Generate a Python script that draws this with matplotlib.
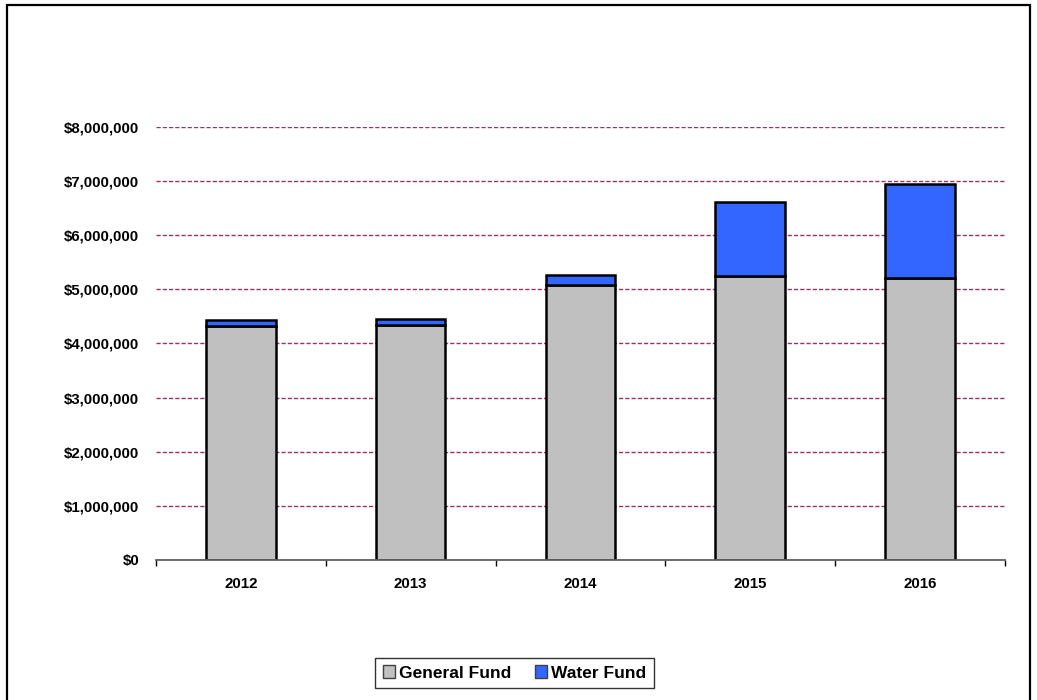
import matplotlib.pyplot as plt
from matplotlib.patches import Rectangle
from matplotlib.ticker import FuncFormatter, FixedLocator
import numpy as np

plt.rcParams['font.family'] = ['Liberation Sans', 'DejaVu Sans']
plt.rcParams['font.weight'] = 'bold'

years = ["2012", "2013", "2014", "2015", "2016"]
general_fund = [4330000, 4350000, 5080000, 5250000, 5210000]
water_fund = [100000, 110000, 180000, 1370000, 1740000]

fig = plt.figure(figsize=(10.37, 7.0), dpi=100)
ax = fig.add_axes([0.1504, 0.2, 0.8187, 0.6186])

x = np.arange(len(years))
bw = 0.41
edge = dict(edgecolor='black', linewidth=1.8)
ax.bar(x, general_fund, bw, color='#C0C0C0', label='General Fund', zorder=3, **edge)
ax.bar(x, water_fund, bw, bottom=general_fund, color='#3366FF',
       label='Water Fund', zorder=3, **edge)

ax.set_xlim(-0.5, len(years) - 0.5)
ax.set_ylim(0, 8000000)
ax.set_yticks(np.arange(0, 8000001, 1000000))
ax.yaxis.set_major_formatter(FuncFormatter(lambda v, p: "${:,.0f}".format(v)))
ax.yaxis.grid(True, color='#993366', linestyle=(0, (3, 1.5)), linewidth=1.0, zorder=0)

ax.set_xticks(x)
ax.set_xticklabels(years)
ax.xaxis.set_minor_locator(FixedLocator(np.arange(-0.5, len(years), 1.0)))
ax.tick_params(axis='x', which='major', length=0, pad=12, labelsize=10.8)
ax.tick_params(axis='x', which='minor', length=4, width=1, color='black', direction='out')
ax.tick_params(axis='y', length=0, pad=12, labelsize=10.8)

for s in ['top', 'right', 'left']:
    ax.spines[s].set_visible(False)
ax.spines['bottom'].set_color('#606060')
ax.spines['bottom'].set_linewidth(1.3)
ax.spines['bottom'].set_zorder(4)

leg = fig.legend(loc='center', bbox_to_anchor=(0.496, 0.0386), ncol=2,
                 frameon=True, fancybox=False, prop={'size': 12.5, 'weight': 'bold'},
                 handlelength=0.7, handleheight=0.7, handletextpad=0.2,
                 columnspacing=1.4, borderpad=0.45)
leg.get_frame().set_edgecolor('black')
leg.get_frame().set_linewidth(1.0)
for h in leg.legend_handles:
    h.set_linewidth(1.0)
    h.set_edgecolor('#404040')

# outer chart frame
fig.patches.append(Rectangle((7 / 1037, -0.05), 1023 / 1037, 1.05 - 5 / 700,
                             transform=fig.transFigure, fill=False,
                             edgecolor='black', linewidth=1.6))

fig.savefig('out.png', dpi=100)
